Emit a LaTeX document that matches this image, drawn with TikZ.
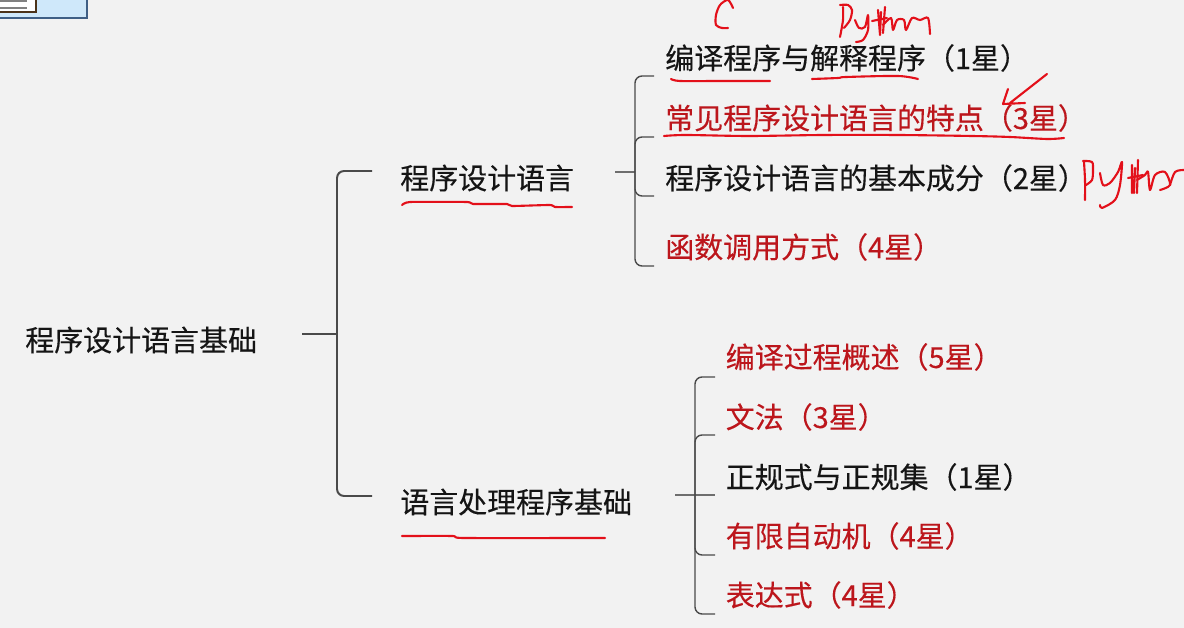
\documentclass[tikz,border=0pt]{standalone}
\usepackage{fontspec}
\setmainfont[FakeBold=0.25]{Noto Sans CJK SC}
\usepackage{xcolor}
\usetikzlibrary{positioning,calc}
\definecolor{bgc}{HTML}{F2F2F2}
\definecolor{linec}{HTML}{4A4A4A}
\definecolor{textc}{HTML}{151515}
\definecolor{starc}{HTML}{BC161C}
\definecolor{inkc}{HTML}{E3101A}
\definecolor{iconc}{HTML}{CFE8FA}
\definecolor{iconb}{HTML}{3F5F85}
\tikzset{
  label/.style={anchor=west,inner sep=0pt,font=\fontsize{20.6}{24}\selectfont,text=textc},
  branch/.style={linec,line width=1.4pt,rounded corners=5pt},
  ink/.style={inkc,line width=1.5pt,line cap=round,line join=round},
}
\begin{document}
\begin{tikzpicture}[x=0.025cm,y=-0.025cm]
  \useasboundingbox (0,0) rectangle (1184,628);
  \clip (0,0) rectangle (1184,628);
  \fill[bgc] (0,0) rectangle (1184,628);
  % icon corner
  \filldraw[fill=iconc,draw=iconb,line width=1.2pt] (-5,-5) rectangle (87,18);
  \filldraw[fill=white,draw=black!60!brown,line width=1.2pt] (-5,-5) rectangle (36,12);
  \draw[gray,line width=1.2pt] (0,1)--(27,1) (0,8)--(27,8);

  \node[label] (root) at (25,340) {程序设计语言基础};
  \node[label] (lang) at (400,178) {程序设计语言};
  \node[label] (proc) at (400,502) {语言处理程序基础};
  \foreach \t/\c/\y [count=\i] in {编译程序与解释程序（1星）/textc/58,
      常见程序设计语言的特点（3星）/starc/118,
      程序设计语言的基本成分（2星）/textc/178,
      函数调用方式（4星）/starc/247}
     \node[label,text=\c] (a\i) at (665,\y) {\t};
  \foreach \t/\c/\y [count=\i] in {编译过程概述（5星）/starc/357,
      文法（3星）/starc/417,
      正规式与正规集（1星）/textc/477,
      有限自动机（4星）/starc/536,
      表达式（4星）/starc/595}
     \node[label,text=\c] (b\i) at (725.5,\y) {\t};

  % free ends of the brackets
  \coordinate (rootout) at (302,334);
  \coordinate (rootmid) at (337,334);
  \coordinate (langin) at (372,171);
  \coordinate (procin) at (372,496);
  \coordinate (langout) at (615,172);
  \coordinate (langmid) at (635,172);
  \foreach \y [count=\i] in {76,137,196,266}
     \coordinate (ain\i) at (654,\y);
  \coordinate (procout) at (675,495);
  \coordinate (procmid) at (695,495);
  \foreach \y [count=\i] in {377,435,495,555,614}
     \coordinate (bin\i) at (715,\y);

  \draw[branch] (rootout) -- (rootmid);
  \draw[branch] (langin) -| (rootmid);
  \draw[branch] (procin) -| (rootmid);
  \draw[branch,line width=0.9pt,linec!80] (langout) -- (langmid);
  \foreach \i in {1,2,3,4}
     \draw[branch,line width=1pt] (ain\i) -| (langmid);
  \draw[branch,line width=0.9pt,linec!80] (procout) -- (bin3);
  \foreach \i in {1,2,4,5}
     \draw[branch,line width=1pt] (bin\i) -| (procmid);

  % underlines
  \draw[ink] plot[smooth] coordinates {(671,79)(680,81)(720,81)(770,81)};
  \draw[ink] plot[smooth] coordinates {(812,79)(838,78)(846,77)(898,76)(918,79)};
  \draw[ink] plot[smooth] coordinates {(664,136)(686,135)(749,136)(823,135)(898,135)(972,136)(1010,137)(1047,139)(1064,138)};
  \draw[ink] plot[smooth,tension=0.3] coordinates {(402,205)(410,202)(467,202)(473,204)(507,204)(512,206)(550,205)(555,207)(572,207)};
  \draw[ink] plot[smooth,tension=0.3] coordinates {(402,536)(453,536)(463,538)(605,538)};

  % handwriting on top
  \draw[ink] plot[smooth] coordinates {(733,8)(728,0)(720,5)(716,15)(716,25)(722,28)(728,28)};
  \draw[ink] plot[smooth] coordinates {(843,7)(843,20)(840,37)};
  \draw[ink] plot[smooth] coordinates {(840,5)(848,5)(852,10)(850,20)(844,28)};
  \draw[ink] plot[smooth] coordinates {(855,20)(859,28)(865,27)(868,15)(868,30)(863,40)(856,42)};
  \draw[ink] (878,10) -- (880,35) (881,12) -- (880,35) (872,21) -- (887,18) (885,7) -- (883,33);
  \draw[ink] plot[smooth] coordinates {(883,25)(891,18)(893,30)(897,20)(904,20)(906,30)(912,18)(920,20)(928,18)(930,34)};

  % handwriting at the right
  \draw[ink] plot[smooth] coordinates {(1084,162)(1085,180)(1085,200)};
  \draw[ink] plot[smooth] coordinates {(1083,161)(1092,162)(1093,170)(1092,180)(1086,185)};
  \draw[ink] plot[smooth] coordinates {(1100,173)(1103,185)(1110,183)(1118,172)(1122,162)(1120,185)(1115,200)(1102,208)(1100,205)};
  \draw[ink] (1132,165) -- (1132,193) (1135,168) -- (1134,193) (1128,178) -- (1143,175) (1138,160) -- (1137,193);
  \draw[ink] plot[smooth] coordinates {(1137,180)(1145,175)(1148,172)(1150,190)(1155,175)(1165,172)(1170,185)(1160,190)};
  \draw[ink] plot[smooth] coordinates {(1170,185)(1175,172)(1184,170)};

  % arrow stroke
  \draw[ink] (1047,74) -- (1010,103) (1008,89) -- (1003,104) -- (1025,103);
\end{tikzpicture}
\end{document}
